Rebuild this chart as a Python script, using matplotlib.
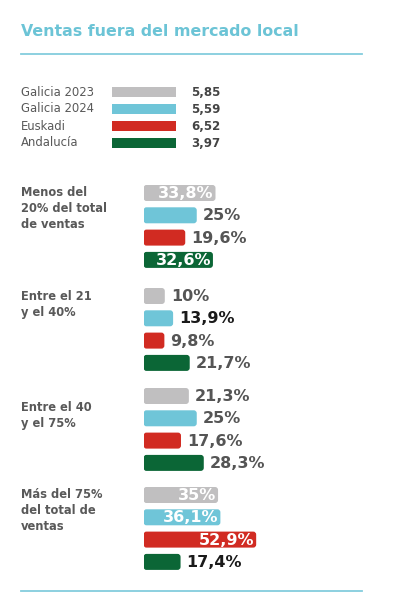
import matplotlib.pyplot as plt
from matplotlib.patches import FancyBboxPatch

# data
series = ['Galicia 2023', 'Galicia 2024', 'Euskadi', 'Andalucía']
series_avg = ['5,85', '5,59', '6,52', '3,97']
colors = ['#c0bfc0', '#6fc5d8', '#d12b22', '#0b6636']
groups = ['Menos del\n20% del total\nde ventas', 'Entre el 21\ny el 40%',
          'Entre el 40\ny el 75%', 'Más del 75%\ndel total de\nventas']
vals = [
    [33.8, 25, 19.6, 32.6],
    [10, 13.9, 9.8, 21.7],
    [21.3, 25, 17.6, 28.3],
    [35, 36.1, 52.9, 17.4],
]
dark_labels = [(1, 1), (3, 3)]  # labels printed in near black

W, H = 395, 609
fig = plt.figure(figsize=(W / 100, H / 100), dpi=100)
fig.patch.set_facecolor('white')

# overlay axes in pixel coords for text / layout
ax = fig.add_axes([0, 0, 1, 1])
ax.set_xlim(0, W)
ax.set_ylim(H, 0)
ax.axis('off')

teal = '#6cc4d6'
gray = '#595959'
ax.text(21, 31, 'Ventas fuera del mercado local', color=teal, fontsize=11.4,
        fontweight='bold', va='center', ha='left')
ax.plot([21, 362], [54, 54], color='#84cddd', lw=1.3)
ax.plot([21, 362], [591, 591], color='#84cddd', lw=1.3)

# legend block
leg_y = [92, 109, 126, 143]
for name, avg, c, y in zip(series, series_avg, colors, leg_y):
    ax.text(21, y, name, color=gray, fontsize=8.4, va='center', ha='left')
    ax.add_patch(plt.Rectangle((112, y - 5), 64, 10, color=c, lw=0))
    ax.text(191, y + 0.5, avg, color='#444444', fontsize=8.5, fontweight='bold',
            va='center', ha='left')

# group labels
group_top = [193, 296, 396, 495]
label_y = [192, 296, 407, 494]
for g, ly in zip(groups, label_y):
    ax.text(21, ly - 6, g, color=gray, fontsize=8.3, fontweight='bold',
            va='top', ha='left', linespacing=1.32)

# bars axes: x in percent, y in pixels
x0 = 143.5
scale = 2.13  # px per percent
axb = fig.add_axes([x0 / W, 0, (W - x0) / W, 1])
axb.set_xlim(0, (W - x0) / scale)
axb.set_ylim(H, 0)
axb.axis('off')

bar_h = 16
r = 3  # corner radius, px
for gi, (gy, row) in enumerate(zip(group_top, vals)):
    ys = [gy + 22.3 * i for i in range(4)]
    bars = axb.barh(ys, row, height=bar_h, color=colors)
    for i, (b, v) in enumerate(zip(bars, row)):
        b.set_visible(False)
        p = r / scale
        axb.add_patch(FancyBboxPatch((b.get_x() + p, b.get_y() + r),
                                     b.get_width() - 2 * p, b.get_height() - 2 * r,
                                     boxstyle=f'round,pad={p}', mutation_aspect=scale,
                                     color=colors[i], lw=0))
        lab = f'{v:g}%'.replace('.', ',')
        if v > 30:
            axb.text(v - 2 / scale, ys[i] + 0.5, lab, color='white', fontsize=11.5,
                     fontweight='bold', ha='right', va='center')
        else:
            tc = '#1a1a1a' if (gi, i) in dark_labels else '#555555'
            axb.text(v + 6 / scale, ys[i] + 0.5, lab, color=tc, fontsize=11.5,
                     fontweight='bold', ha='left', va='center')

fig.savefig('out.png', dpi=100)
